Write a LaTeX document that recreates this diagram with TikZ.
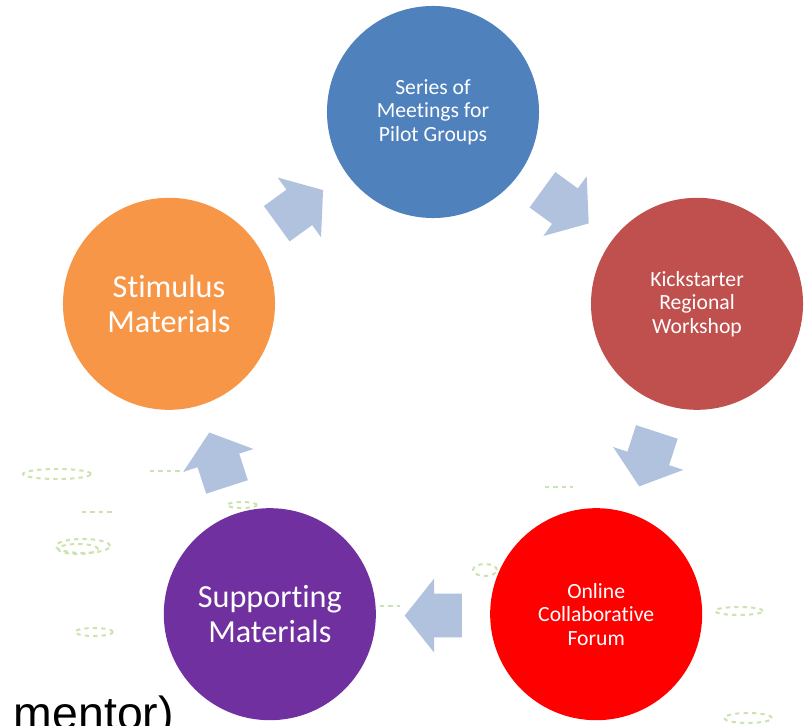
\documentclass[tikz,border=0pt]{standalone}
\usepackage{fontspec}
\setmainfont{Carlito}[Ligatures={NoCommon}]
\newfontfamily\arialfont{Liberation Sans}
\usepackage{tikz}
\usetikzlibrary{positioning}
\usetikzlibrary{calc}
\usetikzlibrary{shapes.arrows}
\definecolor{meetblue}{HTML}{4F81BD}
\definecolor{kickred}{HTML}{C0504D}
\definecolor{forumred}{HTML}{FF0000}
\definecolor{supppurple}{HTML}{7030A0}
\definecolor{stimorange}{HTML}{F79646}
\definecolor{arrowblue}{HTML}{B0C2DE}
\definecolor{spotgreen}{HTML}{CBE3AE}

\begin{document}
\begin{tikzpicture}[x=0.025cm,y=0.025cm,
  stage/.style={circle, minimum size=5.3cm, inner sep=0pt, align=center, text=white},
  small/.style={font=\fontsize{15.4}{16.7}\selectfont},
  big/.style={font=\fontsize{22.9}{24.9}\selectfont},
  flow/.style={single arrow, fill=arrowblue, inner xsep=0pt, inner ysep=0.54cm, minimum height=1.43cm, single arrow head extend=0.375cm, single arrow tip angle=103},
  spot/.style={draw=spotgreen, dashed, line width=1.4pt}]
\useasboundingbox[fill=white] (0,0) rectangle (809,725);

\draw[spot] (57,251) ellipse (34 and 5);
\draw[spot] (150,254) -- (185,254);
\draw[spot] (82,213) -- (112,213);
\draw[spot] (83,179) ellipse (27 and 7);
\draw[spot] (78,176) ellipse (20 and 5);
\draw[spot] (94,93) ellipse (19 and 4);
\draw[spot] (242,220) ellipse (15 and 3);
\draw[spot] (545,238) -- (573,238);
\draw[spot] (485,155) ellipse (12 and 6);
\draw[spot] (380,119) -- (400,119);
\draw[spot] (739,114) ellipse (24 and 4);
\draw[spot] (748,7) ellipse (24 and 5);

\coordinate (hub) at (433,335.4);

\node (series) at ($(hub)+(90:277.6)$) [stage, fill=meetblue, small] {Series of\\Meetings for\\Pilot Groups};
\node (kick) at ($(hub)+(18:277.6)$) [stage, fill=kickred, small] {Kickstarter\\Regional\\Workshop};
\node (forum) at ($(hub)+(-54:277.6)$) [stage, fill=forumred, small] {Online\\Collaborative\\Forum};
\node (support) at ($(hub)+(-126:277.6)$) [stage, fill=supppurple, big] {Supporting\\Materials};
\node (stimulus) at ($(hub)+(162:277.6)$) [stage, fill=stimorange, big] {Stimulus\\Materials};

\node (arrow1) at ($(hub)+(126:226)+(216:9)$) [flow, rotate=36] {};
\node (arrow2) at ($(hub)+(54:226)+(144:9)$) [flow, rotate=-36] {};
\node (arrow3) at ($(hub)+(-18:226)+(72:9)$) [flow, rotate=-108] {};
\node (arrow4) at ($(hub)+(-90:226)+(0:9)$) [flow, rotate=180] {};
\node (arrow5) at ($(hub)+(198:226)+(288:9)$) [flow, rotate=108] {};

\node (mentor) at (9,-4) [anchor=base west, font=\arialfont\fontsize{33}{40}\selectfont] {mentor)};
\end{tikzpicture}
\end{document}
